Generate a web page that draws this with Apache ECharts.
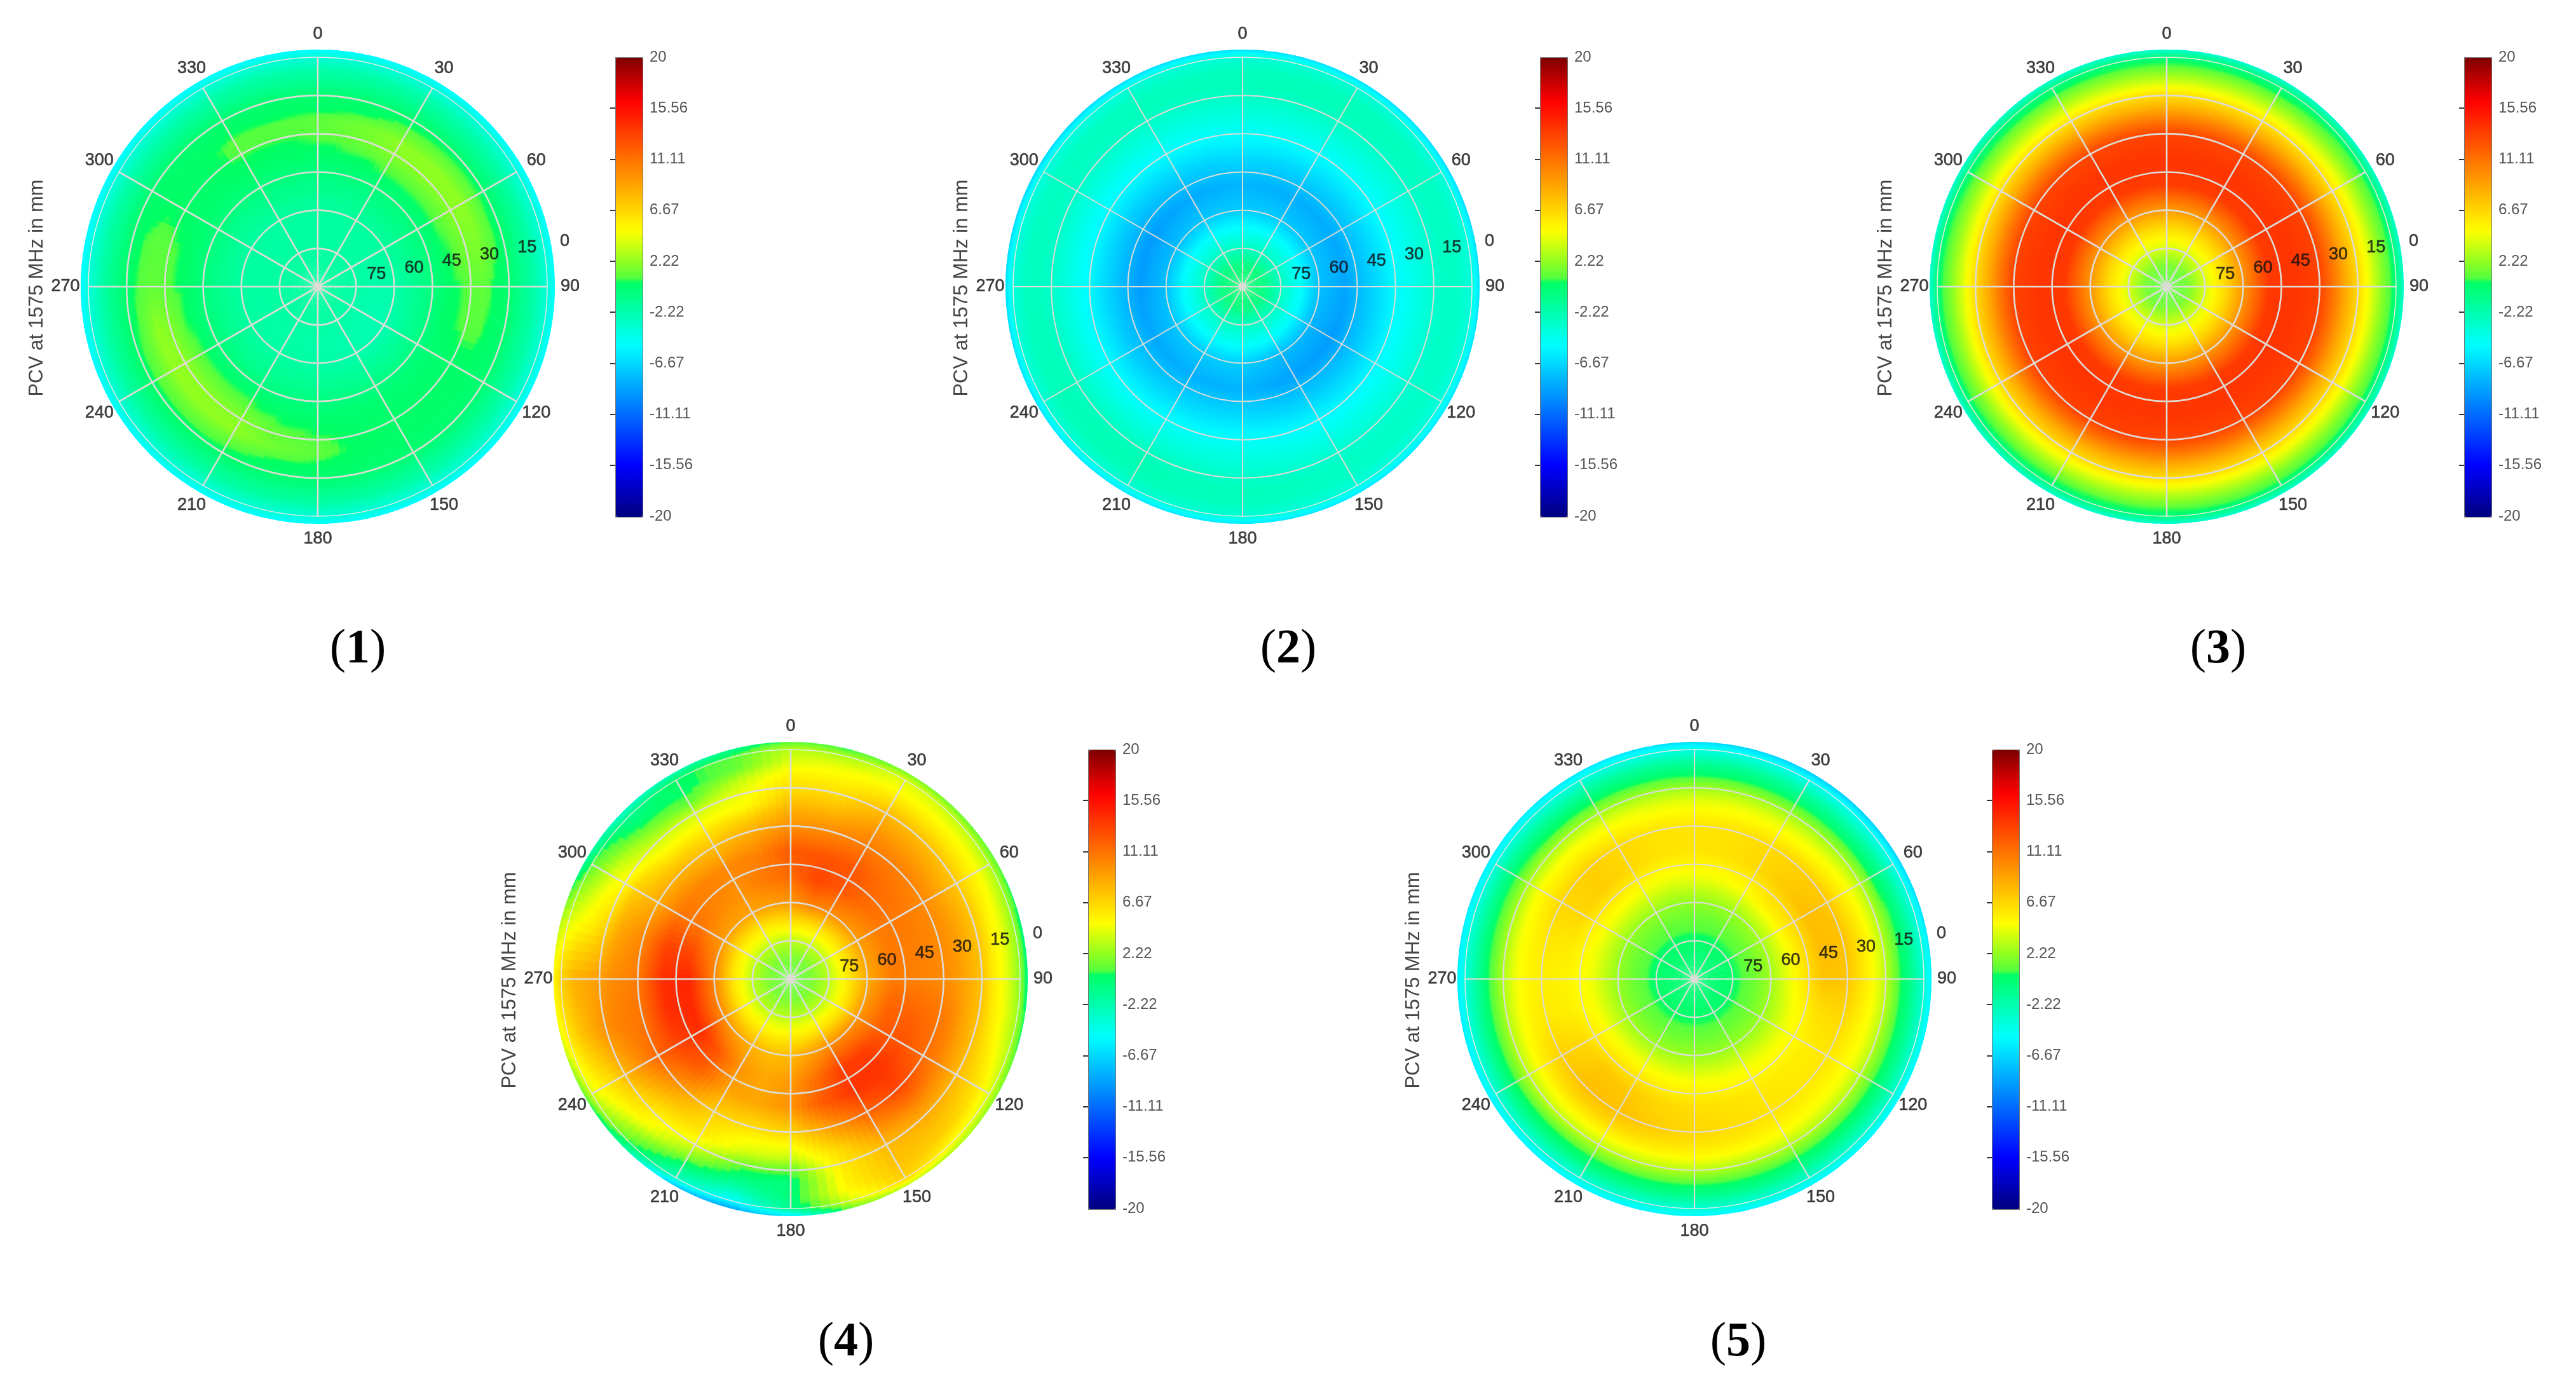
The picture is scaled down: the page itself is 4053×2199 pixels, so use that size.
<!DOCTYPE html>
<html><head><meta charset="utf-8">
<script src="https://cdn.jsdelivr.net/npm/echarts@6/dist/echarts.min.js"></script>
<style>html,body{margin:0;background:#fff}#c{width:4053px;height:2199px}</style></head>
<body><div id="c"></div>
<script>
// Elevation rows (deg) of every panel, from the outer rim to the zenith
const elevations = [-3,0,5,10,15,20,25,30,40,50,60,67,75,82,90];
const radialTicks = [75,60,45,30,15,0];
const ringValues = [15,30,45,60,75];
const azimuthTicks = [0,30,60,90,120,150,180,210,240,270,300,330];
const colorbarLabels = [20,15.56,11.11,6.67,2.22,-2.22,-6.67,-11.11,-15.56,-20];
const colorbarTicks = [15.56,11.11,6.67,2.22,-2.22,-6.67,-11.11,-15.56];
const captions = ['1','2','3','4','5'];
const yTitle = 'PCV at 1575 MHz in mm';

// Each row is one azimuth (evenly spaced from 0), each column one elevation above
const panel1 = [
[-5,-3.6,-2,-1,.1,.4,1,.9,.1,-.8,-1.6,-1.7,-1.7,-1.6,-1.5],
[-5,-3.6,-2,-1,.1,.5,1.5,1.3,.2,-.8,-1.6,-1.7,-1.7,-1.6,-1.5],
[-5,-3.6,-2,-.9,.2,1,2.1,2,.3,-.7,-1.6,-1.7,-1.7,-1.6,-1.5],
[-5,-3.6,-2,-.9,.2,1.1,2.2,2.1,.3,-.7,-1.6,-1.7,-1.7,-1.6,-1.5],
[-5,-3.6,-2,-.9,.2,1.1,2.2,2,.3,-.7,-1.6,-1.8,-1.8,-1.6,-1.5],
[-5,-3.6,-2,-.9,.2,.9,1.8,1.6,.3,-.8,-1.7,-1.9,-1.8,-1.6,-1.5],
[-5,-3.6,-2,-1,.1,.4,1.1,1,.2,-.9,-2,-2,-1.9,-1.6,-1.5],
[-5,-3.6,-2,-1,.1,.3,.9,.9,.2,-1,-2.1,-2.2,-1.9,-1.6,-1.5],
[-5,-3.6,-2,-1,0,.2,.3,.3,0,-1.1,-2.2,-2.2,-1.9,-1.6,-1.5],
[-5,-3.6,-2,-1,0,.2,.3,.3,0,-1.1,-2.2,-2.2,-1.9,-1.6,-1.5],
[-5,-3.6,-2,-1,0,.2,.3,.3,0,-1.1,-2.1,-2.1,-1.9,-1.6,-1.5],
[-5,-3.6,-2,-.9,0,.3,.4,.4,0,-1,-2,-2,-1.8,-1.6,-1.5],
[-5,-3.6,-1.9,-.8,.1,.5,1,.8,0,-1,-1.9,-2,-1.8,-1.6,-1.5],
[-5,-3.6,-1.9,-.8,.2,.6,1.4,1.1,.1,-1,-1.8,-1.9,-1.8,-1.6,-1.5],
[-5,-3.6,-1.9,-.8,.3,1,2.2,1.9,.3,-.9,-1.8,-1.9,-1.8,-1.6,-1.5],
[-5,-3.6,-1.9,-.7,.4,1.2,2.3,2.1,.3,-.9,-1.8,-1.9,-1.8,-1.6,-1.5],
[-5,-3.6,-1.9,-.7,.4,1.2,2.3,2.2,.3,-.8,-1.7,-1.8,-1.7,-1.6,-1.5],
[-5.2,-3.7,-2,-.8,.3,1,2.2,1.8,.2,-.8,-1.7,-1.8,-1.7,-1.6,-1.5],
[-5.3,-3.8,-2,-.8,.2,.8,1.1,1,.2,-.8,-1.7,-1.7,-1.7,-1.6,-1.5],
[-5.3,-3.8,-2,-.9,.2,.7,1,.9,.1,-.8,-1.7,-1.7,-1.7,-1.6,-1.5],
[-5.3,-3.8,-2.1,-1,.1,.3,.4,.3,.1,-.9,-1.7,-1.8,-1.7,-1.6,-1.5],
[-5.3,-3.7,-2.1,-1,.1,.3,.3,.3,.1,-.9,-1.7,-1.8,-1.7,-1.6,-1.5],
[-5.2,-3.7,-2,-1,.1,.4,.9,.8,.1,-.8,-1.6,-1.7,-1.7,-1.6,-1.5],
[-5.1,-3.6,-2,-1,.1,.4,.8,.7,.1,-.8,-1.6,-1.7,-1.7,-1.6,-1.5]
];
const panel2 = [
[-6.3,-3.6,-2.7,-2.5,-2.9,-3.5,-4.1,-4.8,-6.6,-8.1,-7.1,-4.9,-2.8,-.3,.3],
[-6.3,-3.6,-2.6,-2.4,-2.9,-3.5,-4.2,-4.9,-6.8,-8.3,-7.2,-4.9,-2.8,-.3,.3],
[-6.5,-3.8,-2.9,-2.8,-3.2,-3.8,-4.4,-5,-6.9,-8.5,-7.4,-5,-2.9,-.3,.3],
[-6.3,-3.8,-3,-2.9,-3.3,-3.9,-4.5,-5.1,-7,-8.7,-7.6,-5,-2.9,-.3,.3],
[-6,-3.8,-3.1,-3,-3.4,-4,-4.6,-5.3,-7.3,-9.1,-8,-5.2,-2.9,-.3,.3],
[-6,-3.7,-3,-2.9,-3.3,-3.9,-4.5,-5.2,-7.1,-8.9,-7.8,-5.1,-2.9,-.3,.3],
[-6,-3.5,-2.7,-2.6,-3,-3.6,-4.1,-4.8,-6.6,-8.1,-7,-4.8,-2.8,-.3,.3],
[-6,-3.5,-2.5,-2.3,-2.7,-3.4,-4.1,-4.9,-6.7,-8.3,-7.1,-4.9,-2.8,-.3,.3],
[-6.2,-3.6,-2.6,-2.4,-2.8,-3.5,-4.3,-5.1,-7.1,-8.6,-7.3,-5,-2.8,-.3,.3],
[-6.4,-3.7,-2.8,-2.7,-3.1,-3.7,-4.5,-5.3,-7.3,-9.1,-7.6,-5.1,-2.9,-.3,.3],
[-6.7,-3.9,-2.9,-2.8,-3.1,-3.8,-4.5,-5.3,-7.3,-9.1,-7.7,-5.1,-2.9,-.3,.3],
[-6.5,-3.7,-2.8,-2.6,-3,-3.6,-4.3,-5,-6.9,-8.5,-7.3,-5,-2.8,-.3,.3]
];
const panel3 = [
[-3.4,-.3,1.6,3.9,6.4,8.5,11,13.2,13.9,13.6,9.4,6.5,3.9,1.5,.8],
[-3.4,-.3,1.5,3.8,6.2,8.4,10.9,13.1,13.9,13.5,9.3,6.5,3.9,1.5,.8],
[-3.3,-.2,1.7,4,6.3,8.5,11,13.2,13.9,13.6,9.5,6.5,3.9,1.5,.8],
[-3.3,-.2,1.8,4.2,6.6,8.7,11.2,13.3,13.9,13.7,9.6,6.6,3.9,1.5,.8],
[-3.3,-.2,1.8,4.2,6.6,8.7,11.2,13.3,13.9,13.7,9.6,6.6,3.9,1.5,.8],
[-3.3,-.2,1.7,4.1,6.5,8.6,11,13.2,13.9,13.6,9.5,6.5,3.9,1.5,.8],
[-3.4,-.3,1.6,3.9,6.4,8.5,11,13.2,13.9,13.6,9.4,6.5,3.9,1.5,.8],
[-3.4,-.3,1.6,4,6.5,8.6,11.1,13.3,13.9,13.6,9.4,6.5,3.9,1.5,.8],
[-3.4,-.3,1.7,4.1,6.6,8.7,11.2,13.3,13.9,13.7,9.5,6.5,3.9,1.5,.8],
[-3.4,-.3,1.7,4,6.5,8.6,11.1,13.3,13.9,13.7,9.6,6.6,3.9,1.5,.8],
[-3.4,-.3,1.6,3.9,6.3,8.5,11,13.2,13.9,13.7,9.6,6.6,3.9,1.5,.8],
[-3.4,-.3,1.5,3.8,6.2,8.4,10.9,13.1,13.9,13.6,9.5,6.5,3.9,1.5,.8]
];
const panel4 = [
[1,3.2,4.2,5.5,6.3,7.5,8.8,9.8,12.3,11.5,9.5,6.5,3.2,1.6,1],
[.6,2.8,4.6,5.4,6.4,7.5,8.8,10,12.5,13.2,10.5,6.5,3.3,1.6,1],
[1.8,4.2,4.9,6.4,8,9,10,10.7,12.4,12.4,10,6.5,3.3,1.6,1],
[1.4,3.5,4.9,6.2,7.8,8.8,9.8,10.6,11.4,11.4,9.6,6.3,3.3,1.6,1],
[1,3,4.7,5.9,7.3,8.3,9.3,10.1,10.8,10.8,9.2,6.3,3.3,1.6,1],
[0,2.2,4.3,5.6,7.5,8.6,9.5,10.1,10.6,10.8,9,6.2,3.3,1.6,1],
[-.5,2,4.2,5.6,7.6,8.6,9.5,10.1,10.5,10.8,8.7,6,3.2,1.6,1],
[.5,2.8,4.5,6,7.7,8.8,10.3,11,11.8,11.8,9.2,6,3.2,1.6,1],
[2,3.9,5.8,7,8,9.4,10.6,11.4,12.6,12.2,9.6,6,3.2,1.6,1],
[3,5,7,7.8,8.7,10,11.8,13.2,14,13.5,10,6.3,3.2,1.6,1],
[3.5,7,7.5,7.8,8,9.2,10.5,11.8,14,13.5,10,6.3,3.2,1.6,1],
[1.5,3.9,5.3,5.5,5.8,6.3,7.8,9.3,12.4,11.3,9,6,3.2,1.6,1],
[-6,-1,-.2,-.3,1,3.6,5,6.8,9.8,9.4,8,5.8,3.2,1.6,1],
[-8.7,-5.2,-2.4,-.3,1.5,3.9,5,6.3,8.8,8.8,7.8,5.6,3.2,1.6,1],
[-7.3,-2.8,-.5,2,4.2,5.8,6.4,7,9,9.7,8.3,5.8,3.2,1.6,1],
[-1.5,.8,2.7,4.9,5.5,6.8,8.2,9.4,12,12.4,9,6,3.2,1.6,1],
[1,3.9,5.5,6.5,8,9.3,10.5,11.7,13.3,14.3,10,6.2,3.2,1.6,1],
[4.2,5.8,7.5,8.7,9.8,10.5,10.8,11,14.2,14.5,10.3,6.3,3.2,1.6,1],
[5.3,7,8.4,8.8,9.3,10,10.4,10.8,14.2,14.6,10.5,6.3,3.2,1.6,1],
[3,4,4.9,5.8,7,8.8,9.6,10.3,13.3,13,10,6.2,3.2,1.6,1],
[-1.6,.9,2.6,4.3,5,7,7.9,8.7,11,11,9.2,6,3.2,1.6,1],
[-3.3,-1,0,2,3.7,5,6.8,8.2,10.5,10.3,9,6,3.2,1.6,1],
[-2.4,.5,.3,1,3.6,4.9,6.4,7.7,10.2,9.8,9,6,3.2,1.6,1],
[-.8,.9,1.2,3.5,4.5,5,7,8.5,10.5,10.8,9.2,6.2,3.2,1.6,1]
];
const panel5 = [
[-6.5,-4,-1.5,.3,2.5,4.2,5.2,6,6,4.5,2.2,1.2,.3,-.1,-.2],
[-6.8,-4.2,-1.6,.3,2.6,4.3,5.3,6.2,6.2,4.7,2.3,1.2,.3,-.1,-.2],
[-7,-4.4,-1.8,.2,2.5,4.2,5.4,6.5,6.6,5,2.4,1.3,.4,0,-.2],
[-7,-4.4,-1.8,.2,2.6,4.4,5.6,7,7.3,5.6,2.6,1.4,.4,0,-.2],
[-6.8,-4.2,-1.5,.5,3,4.8,6,7.4,7.8,5.6,2.7,1.4,.4,0,-.2],
[-6.2,-3.8,-1.2,.8,3.2,5,6.4,7.7,7.8,5.4,2.7,1.4,.4,0,-.2],
[-5.5,-3.5,-1,.9,3.3,5,6.2,7.5,7.5,5.2,2.6,1.3,.4,0,-.2],
[-5.3,-3.4,-1,.9,3.2,4.8,5.7,6.6,6.3,4.8,2.5,1.3,.4,0,-.2],
[-5.2,-3.3,-.9,.9,3,4.6,5.4,6,5.6,4.5,2.4,1.3,.4,0,-.2],
[-5.3,-3.3,-.9,.9,3,4.6,5.4,5.9,5.7,4.6,2.4,1.3,.4,0,-.2],
[-5.3,-3.4,-1,.8,3,4.7,5.6,6.1,5.9,4.7,2.4,1.3,.4,0,-.2],
[-5.3,-3.4,-1,.8,3,4.8,5.8,6.4,6.1,4.7,2.4,1.3,.4,0,-.2],
[-5.3,-3.5,-1,.8,3.1,5,6,6.7,6.3,4.8,2.4,1.3,.4,0,-.2],
[-5.4,-3.5,-1,.9,3.2,5.1,6.4,7.2,6.6,4.9,2.5,1.3,.4,0,-.2],
[-5.4,-3.6,-1,1,3.3,5.2,6.7,7.7,7.2,5.1,2.5,1.3,.4,0,-.2],
[-5.5,-3.6,-1,1,3.5,5.2,6.8,7.8,7.4,5.2,2.5,1.3,.4,0,-.2],
[-5.6,-3.6,-1.1,1,3.3,5,6.2,7,6.6,5,2.5,1.3,.4,0,-.2],
[-5.8,-3.8,-1.2,.8,3,4.7,5.5,5.9,5.6,4.7,2.4,1.3,.4,0,-.2],
[-5.9,-3.8,-1.3,.7,2.9,4.6,5.3,5.6,5.3,4.5,2.3,1.2,.3,0,-.2],
[-5.8,-3.8,-1.3,.7,2.9,4.6,5.4,6,5.8,4.6,2.3,1.2,.3,0,-.2],
[-5.8,-3.8,-1.3,.7,2.9,4.8,5.8,6.7,6.7,4.8,2.3,1.2,.3,0,-.2],
[-5.9,-3.8,-1.4,.6,2.8,4.7,5.8,7,7.1,4.9,2.3,1.2,.3,0,-.2],
[-6,-3.9,-1.5,.5,2.6,4.4,5.5,6.6,6.6,4.7,2.3,1.2,.3,0,-.2],
[-6.2,-4,-1.5,.4,2.5,4.2,5.2,6.1,6.1,4.5,2.2,1.2,.3,-.1,-.2]
];
const panels = [panel1,panel2,panel3,panel4,panel5];

// Layout only
const centers = [[500,451],[1955,451],[3409,451],[1244,1540],[2666,1540]];
const captionPos = [[558,1017],[2022,1017],[3485,1017],[1326,2107],[2730,2107]];
const gridWidths = [2.6,2,2.6,2.6,2.2];
const R = 361, angleLabelGap = 36;

// Colour map (with its break just above 0.6)
const cmap = [[-20,[0,0,127]],[-15.5,[0,0,255]],[-5,[0,255,255]],[.6,[0,255,96]],[.7,[80,255,64]],[2.22,[144,255,32]],[4.9,[255,255,0]],[16.2,[255,0,0]],[20,[127,0,0]]];
function colorOf(v){
  v=Math.max(-20,Math.min(20,v));
  for(let i=1;i<cmap.length;i++){
    if(v<=cmap[i][0]){
      const t=(v-cmap[i-1][0])/(cmap[i][0]-cmap[i-1][0]);
      const a=cmap[i-1][1],b=cmap[i][1];
      return 'rgb('+a.map((x,k)=>Math.round(x+(b[k]-x)*t)).join(',')+')';
    }
  }
}
const palette=[];for(let k=0;k<=160;k++)palette.push(colorOf(-20+k*.25));

const dist=(p,c)=>Math.hypot(p[0]-c[0],p[1]-c[1]);
const renderCell = grid => (params,api)=>{
  const a=api.value(3),e=api.value(4),na=grid.length,step=360/na,a1=(a+1)%na;
  const c=api.coord([90,0]);
  const ro=dist(api.coord([elevations[e],0]),c),ri=dist(api.coord([elevations[e+1],0]),c);
  const Rim=dist(api.coord([elevations[0],0]),c);
  const K=Math.round(step/2.5),children=[];
  for(let k=0;k<K;k++){
    const t=(k+.5)/K;
    const vo=grid[a][e]+(grid[a1][e]-grid[a][e])*t, vi=grid[a][e+1]+(grid[a1][e+1]-grid[a][e+1])*t;
    const stops=[];
    for(let s=0;s<=4;s++){const f=s/4;stops.push({offset:(ri+(ro-ri)*f)/Rim,color:colorOf(vi+(vo-vi)*f)});}
    const th=(a*step+k*step/K-90)*Math.PI/180;
    children.push({type:'sector',silent:true,
      shape:{cx:c[0],cy:c[1],r0:Math.max(0,ri-.5),r:ro,startAngle:th,endAngle:th+(step/K+.4)*Math.PI/180,clockwise:true},
      style:{fill:new echarts.graphic.RadialGradient(c[0],c[1],Rim,stops,true)}});
  }
  return {type:'group',children};
};

const labelFont={color:'#111',fontSize:27,fontFamily:'Liberation Sans',textBorderColor:'#111',textBorderWidth:.6};
const polar=[],angleAxis=[],radiusAxis=[],grid=[],xAxis=[],yAxis=[],visualMap=[],series=[],title=[],graphic=[];
panels.forEach((g,i)=>{
  const [cx,cy]=centers[i], bx=cx+468, by=cy-361;
  polar.push({center:[cx,cy],radius:R});
  const line={color:'#dedcd6',width:gridWidths[i]};
  angleAxis.push({polarIndex:i,type:'value',min:0,max:360,interval:30,startAngle:90,z:10,
    axisLine:{show:true,lineStyle:{color:'#e8e8e4',width:1.5}},axisTick:{show:false},splitLine:{show:true,lineStyle:line},
    axisLabel:{show:false}});
  radiusAxis.push({polarIndex:i,type:'value',inverse:true,min:0,max:90,interval:15,z:10,
    axisLine:{show:false},axisTick:{show:false,customValues:ringValues},axisLabel:{show:false},splitLine:{show:true,lineStyle:line}});
  grid.push({left:bx,top:by,width:42,height:722});
  xAxis.push({gridIndex:i,type:'value',show:false,min:0,max:1});
  yAxis.push({gridIndex:i,type:'value',min:-20,max:20,position:'right',z:10,
    axisLine:{show:false},splitLine:{show:false},
    axisTick:{show:true,inside:true,length:8,customValues:colorbarTicks,lineStyle:{color:'#333',width:2}},
    axisLabel:{show:true,customValues:colorbarLabels,margin:12,padding:[8,0,0,0],color:'#555',fontSize:24,fontFamily:'Liberation Sans',formatter:v=>String(v)}});
  const cells=[];
  g.forEach((row,a)=>row.forEach((v,e)=>{ if(e<elevations.length-1) cells.push([elevations[e],a*360/g.length,v,a,e]); }));
  const idx=series.length;
  series.push({type:'custom',coordinateSystem:'polar',polarIndex:i,z:2,silent:true,renderItem:renderCell(g),
    encode:{radius:0,angle:1,value:2},data:cells});
  series.push({type:'scatter',coordinateSystem:'polar',polarIndex:i,z:20,symbolSize:0,silent:true,
    data:radialTicks.map(t=>[t,80]),
    label:{show:true,position:'inside',offset:[33,-9],...labelFont,formatter:p=>String(p.value[0])}});
  series.push({type:'scatter',coordinateSystem:'polar',polarIndex:i,z:20,symbolSize:0,silent:true,
    data:azimuthTicks.map(t=>({value:[0,t],label:{offset:[Math.sin(t*Math.PI/180)*angleLabelGap,-Math.cos(t*Math.PI/180)*angleLabelGap]}})),
    label:{show:true,position:'inside',...labelFont,formatter:p=>String(p.value[1])}});
  series.push({type:'scatter',coordinateSystem:'polar',polarIndex:i,z:21,symbolSize:13,silent:true,
    itemStyle:{color:'#dcdcd8'},data:[[90,0]]});
  visualMap.push({type:'continuous',seriesIndex:idx,dimension:2,min:-20,max:20,left:bx,top:by,itemWidth:42,itemHeight:722,
    padding:0,calculable:false,hoverLink:false,borderColor:'#777',borderWidth:2,inRange:{color:palette},textStyle:{color:'transparent',fontSize:1},text:['','']});
  title.push({text:'{a|(}{b|'+captions[i]+'}{a|)}',left:captionPos[i][0],top:captionPos[i][1]-46,textAlign:'center',
    textStyle:{rich:{a:{fontFamily:'Liberation Serif',fontWeight:'normal',fontSize:76,color:'#000',lineHeight:92},b:{fontFamily:'Liberation Serif',fontWeight:'bold',fontSize:76,color:'#000',lineHeight:92}}}});
  graphic.push({type:'text',x:cx-442,y:cy+2,rotation:Math.PI/2,silent:true,
    style:{text:yTitle,fill:'#444',fontSize:31,fontFamily:'Liberation Sans',align:'center',verticalAlign:'middle'}});
});

const chart=echarts.init(document.getElementById('c'),null,{renderer:'canvas'});
chart.setOption({backgroundColor:'#fff',animation:false,title,polar,angleAxis,radiusAxis,grid,xAxis,yAxis,visualMap,series,graphic});
</script></body></html>
